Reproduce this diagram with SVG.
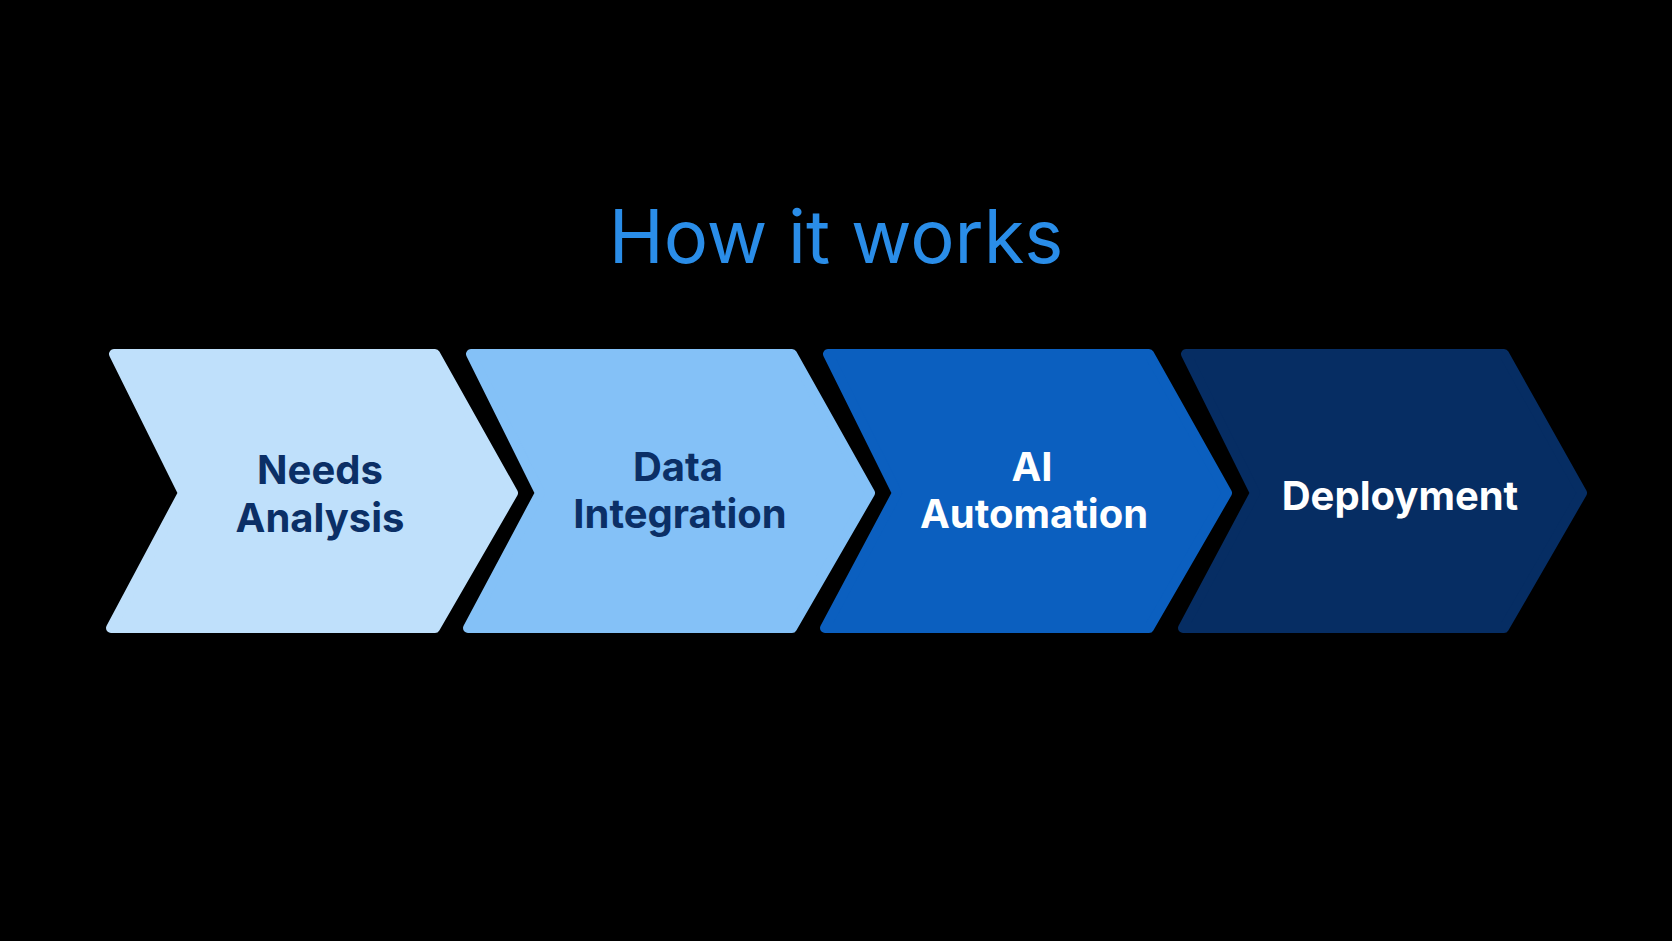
<svg xmlns="http://www.w3.org/2000/svg" width="1672" height="941" viewBox="0 0 1672 941">
<style>
.ch{stroke-linejoin:round;stroke-width:10}
.lb{font-family:Inter,"Liberation Sans",sans-serif;font-weight:700;font-size:40px;text-anchor:middle}
</style>
<rect width="1672" height="941" fill="#000"/>
<text x="836" y="263" font-family="Inter,'Liberation Sans',sans-serif" font-size="74" fill="#2a8de8" text-anchor="middle">How it works</text>
<g id="n1"><polygon class="ch" fill="#bfe0fb" stroke="#bfe0fb" points="114,354 435,354 513,493 435,628 111,628 183,493"/>
<text class="lb" fill="#0b2f66"><tspan x="320" y="484">Needs</tspan><tspan x="320" y="532">Analysis</tspan></text></g>
<g id="n2"><polygon class="ch" fill="#84c1f7" stroke="#84c1f7" points="471,354 792,354 870,493 792,628 468,628 540,493"/>
<text class="lb" fill="#0b2f66"><tspan x="678" y="481">Data</tspan><tspan x="680" y="528">Integration</tspan></text></g>
<g id="n3"><polygon class="ch" fill="#0b5fbf" stroke="#0b5fbf" points="828,354 1149,354 1227,493 1149,628 825,628 897,493"/>
<text class="lb" fill="#fff"><tspan x="1032" y="481">AI</tspan><tspan x="1034" y="528">Automation</tspan></text></g>
<g id="n4"><polygon class="ch" fill="#062d63" stroke="#062d63" points="1186,354 1504,354 1582,493 1504,628 1183,628 1255,493"/>
<text class="lb" fill="#fff"><tspan x="1400" y="510">Deployment</tspan></text></g>
<g id="connectors"/>
</svg>
